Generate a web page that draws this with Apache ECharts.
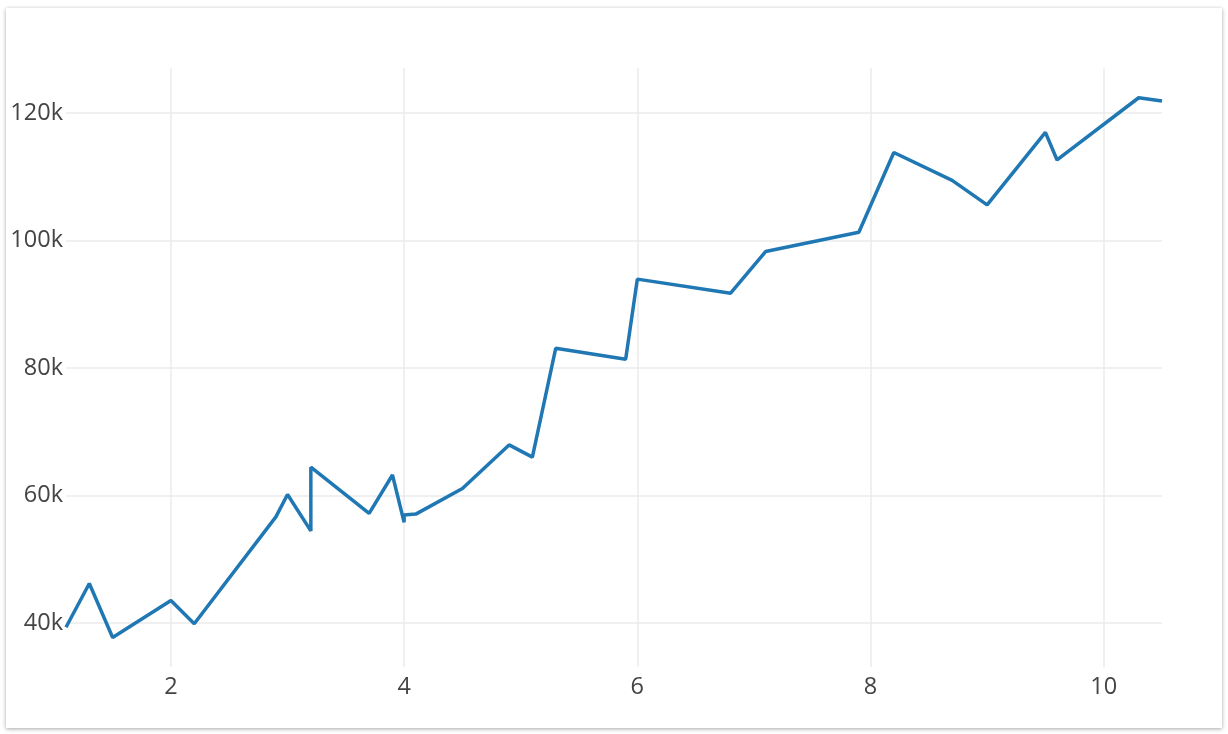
<!DOCTYPE html>
<html><head><meta charset="utf-8">
<script src="https://cdn.jsdelivr.net/npm/echarts@6/dist/echarts.min.js"></script>
<style>
html,body{margin:0;padding:0;background:#fff;}
#card{position:absolute;left:6px;top:8px;width:1216px;height:720px;background:#fff;box-shadow:0 1px 4px rgba(0,0,0,0.35);}
#chart{width:100%;height:100%;}
</style></head>
<body><div id="card"><div id="chart"></div></div>
<script>
const yearsExperience = [1.1,1.3,1.5,2.0,2.2,2.9,3.0,3.2,3.2,3.7,3.9,4.0,4.0,4.1,4.5,4.9,5.1,5.3,5.9,6.0,6.8,7.1,7.9,8.2,8.7,9.0,9.5,9.6,10.3,10.5];
const salary = [39343,46205,37731,43525,39891,56642,60150,54445,64445,57189,63218,55794,56957,57081,61111,67938,66029,83088,81363,93940,91738,98273,101302,113812,109431,105582,116969,112635,122391,121872];
const xTicks = [2,4,6,8,10];
const yTicks = [40000,60000,80000,100000,120000];

const chart = echarts.init(document.getElementById('chart'));
const font = {fontFamily:'Open Sans', fontSize:23.5, color:'#444'};
chart.setOption({
  animation:false,
  grid:{left:60,right:60,top:60,bottom:61,containLabel:false},
  xAxis:{type:'value',min:1.1,max:10.5,
    axisLine:{show:false},
    axisTick:{show:false,customValues:xTicks},
    axisLabel:Object.assign({customValues:xTicks,margin:8},font),
    splitLine:{show:true,lineStyle:{color:'#ebebeb',width:1.5}}},
  yAxis:{type:'value',min:33100,max:127060,
    axisLine:{show:false},
    axisTick:{show:false,customValues:yTicks},
    axisLabel:Object.assign({customValues:yTicks,margin:3,formatter:v=>(v/1000)+'k'},font),
    splitLine:{show:true,lineStyle:{color:'#ebebeb',width:1.5}}},
  series:[{type:'line',data:yearsExperience.map((x,i)=>[x,salary[i]]),
    showSymbol:false,symbol:'none',lineStyle:{color:'#1f77b4',width:3.5},clip:true}]
});
</script></body></html>
